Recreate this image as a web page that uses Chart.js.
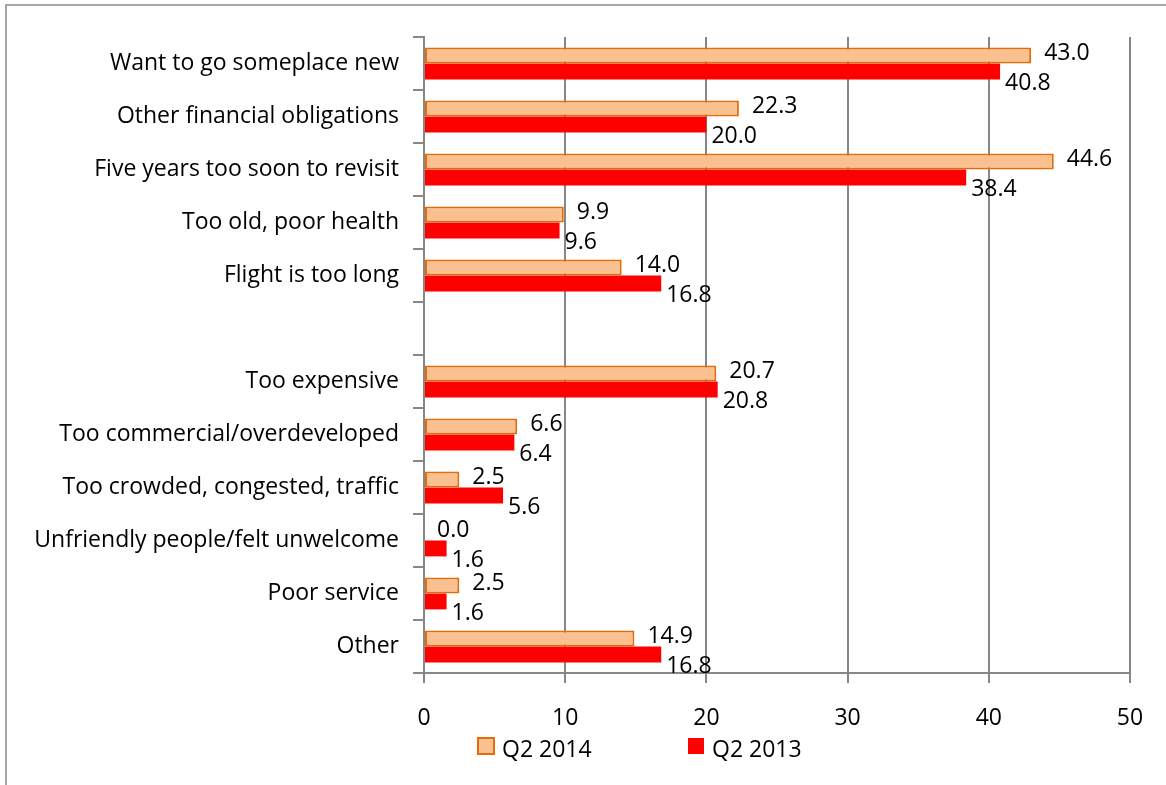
<!DOCTYPE html>
<html>
<head>
<meta charset="utf-8">
<script src="https://cdn.jsdelivr.net/npm/chart.js@4"></script>
<style>
	html, body { margin: 0; padding: 0; background: #fff; }
	body { width: 1166px; height: 785px; position: relative; overflow: hidden; }
	.frame { position: absolute; left: 5px; top: 4px; width: 1300px; height: 900px; border: 2px solid #a6a6a6; }
	#wrap { position: absolute; left: 0; top: 0; width: 1166px; height: 785px; }
</style>
</head>
<body>
<div class="frame"></div>
<div id="wrap"><canvas id="reasonsChart" width="1166" height="785"></canvas></div>
<script>
const categories = [
	'Want to go someplace new',
	'Other financial obligations',
	'Five years too soon to revisit',
	'Too old, poor health',
	'Flight is too long',
	'',
	'Too expensive',
	'Too commercial/overdeveloped',
	'Too crowded, congested, traffic',
	'Unfriendly people/felt unwelcome',
	'Poor service',
	'Other',
];
const q2_2014 = [43.0, 22.3, 44.6, 9.9, 14.0, null, 20.7, 6.6, 2.5, 0.0, 2.5, 14.9];
const q2_2013 = [40.8, 20.0, 38.4, 9.6, 16.8, null, 20.8, 6.4, 5.6, 1.6, 1.6, 16.8];
const seriesNames = ['Q2 2014', 'Q2 2013'];
const xTicks = [0, 10, 20, 30, 40, 50];

const FONT = '"Open Sans", "Noto Sans", sans-serif';
const FSIZE = 23;
const gridGray = '#878787';

// value labels next to each bar end
const valueLabels = {
	id: 'valueLabels',
	afterDatasetsDraw(chart) {
		const ctx = chart.ctx;
		ctx.save();
		ctx.font = FSIZE + 'px ' + FONT;
		ctx.fillStyle = '#000';
		ctx.textAlign = 'left';
		ctx.textBaseline = 'middle';
		chart.data.datasets.forEach((ds, i) => {
			const meta = chart.getDatasetMeta(i);
			meta.data.forEach((bar, j) => {
				const v = ds.data[j];
				if (v === null || v === undefined) return;
				const dx = i === 0 ? 13 : 5;
				const dy = i === 0 ? -2 : 12;
				ctx.fillText(v.toFixed(1), bar.x + dx, bar.y + dy);
			});
		});
		ctx.restore();
	},
};

// legend drawn under the axis like the original
const bottomLegend = {
	id: 'bottomLegend',
	afterDraw(chart) {
		const ctx = chart.ctx;
		const items = [
			{ x: 478, fill: '#fac090', stroke: '#e46c0a' },
			{ x: 688, fill: '#ff0000', stroke: null },
		];
		ctx.save();
		ctx.font = FSIZE + 'px ' + FONT;
		ctx.textBaseline = 'middle';
		items.forEach((it, i) => {
			ctx.fillStyle = it.fill;
			ctx.fillRect(it.x, 738, 16, 16);
			if (it.stroke) {
				ctx.strokeStyle = it.stroke;
				ctx.lineWidth = 2;
				ctx.strokeRect(it.x, 738, 16, 16);
			}
			ctx.fillStyle = '#000';
			ctx.fillText(seriesNames[i], it.x + 24, 750);
		});
		ctx.restore();
	},
};

new Chart(document.getElementById('reasonsChart'), {
	type: 'bar',
	data: {
		labels: categories,
		datasets: [
			{
				label: seriesNames[0],
				data: q2_2014,
				backgroundColor: '#fac090',
				borderColor: '#e46c0a',
				borderWidth: 2,
				borderSkipped: false,
			},
			{
				label: seriesNames[1],
				data: q2_2013,
				backgroundColor: '#ff0000',
				borderWidth: 0,
			},
		],
	},
	options: {
		indexAxis: 'y',
		responsive: false,
		animation: false,
		maintainAspectRatio: false,
		categoryPercentage: 0.6,
		barPercentage: 1,
		layout: { padding: { left: 0, top: 37, right: 36, bottom: 0 } },
		plugins: {
			legend: { display: false },
			tooltip: { enabled: false },
		},
		scales: {
			x: {
				min: 0,
				max: 50,
				afterBuildTicks(scale) {
					scale.ticks = xTicks.map((v) => ({ value: v }));
				},
				afterFit(scale) {
					scale.height = 112;
				},
				grid: {
					color: gridGray,
					lineWidth: 2,
					tickLength: 10,
					tickColor: gridGray,
				},
				border: { color: gridGray, width: 2 },
				ticks: {
					color: '#000',
					padding: 22,
					font: { family: FONT, size: FSIZE },
				},
			},
			y: {
				afterFit(scale) {
					scale.width = 424;
				},
				grid: {
					drawOnChartArea: false,
					drawTicks: true,
					tickLength: 11,
					tickColor: gridGray,
					lineWidth: 2,
					offset: true,
				},
				border: { color: gridGray, width: 2 },
				ticks: {
					color: '#000',
					padding: 14,
					autoSkip: false,
					font: { family: FONT, size: FSIZE },
				},
			},
		},
	},
	plugins: [valueLabels, bottomLegend],
});
</script>
</body>
</html>
